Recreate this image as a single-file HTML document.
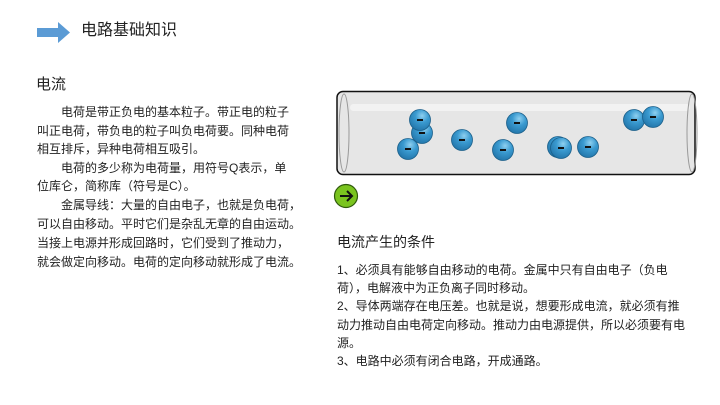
<!DOCTYPE html>
<html><head><meta charset="utf-8"><style>
body{margin:0;width:720px;height:405px;background:#fff;position:relative;overflow:hidden;font-family:"Liberation Sans","Noto Sans CJK SC",sans-serif;color:#222}
.t{position:absolute;white-space:nowrap;font-size:12px;line-height:14px}
</style></head><body>
<svg width="720" height="405" style="position:absolute;left:0;top:0">
<polygon points="37,28 58,28 58,22 70,32.5 58,43 58,37 37,37" fill="#5b9bd5"/>
<defs>
<radialGradient id="e" cx="0.6" cy="0.3" r="0.8"><stop offset="0" stop-color="#8fd0f0"/><stop offset="0.4" stop-color="#3a9ad0"/><stop offset="1" stop-color="#1e6fa3"/></radialGradient>
</defs>
<rect x="337" y="91.5" width="358" height="83" rx="6" fill="#e6e6e6" stroke="#111" stroke-width="1.5"/>
<rect x="350" y="104" width="340" height="7" rx="3.5" fill="#f2f2f2"/>
<ellipse cx="344" cy="133" rx="5" ry="39" fill="none" stroke="#999" stroke-width="1"/>
<ellipse cx="692" cy="133" rx="5" ry="39" fill="none" stroke="#999" stroke-width="1"/>
<g stroke="#1a5f8a" stroke-width="0.8" fill="url(#e)">
<circle cx="422" cy="133" r="10.5"/><circle cx="420" cy="120" r="10.5"/><circle cx="408" cy="149" r="10.5"/>
<circle cx="462" cy="140" r="10.5"/><circle cx="517" cy="123" r="10.5"/><circle cx="503" cy="150" r="10.5"/>
<circle cx="558" cy="147" r="10.5"/><circle cx="561" cy="148" r="10.5"/><circle cx="588" cy="147" r="10.5"/>
<circle cx="634" cy="120" r="10.5"/><circle cx="653" cy="117" r="10.5"/>
</g>
<g stroke="#111" stroke-width="2">
<line x1="417" y1="120" x2="423" y2="120"/><line x1="419" y1="133" x2="425" y2="133"/><line x1="405" y1="149" x2="411" y2="149"/>
<line x1="459" y1="140" x2="465" y2="140"/><line x1="514" y1="123" x2="520" y2="123"/><line x1="500" y1="150" x2="506" y2="150"/>
<line x1="558" y1="148" x2="564" y2="148"/><line x1="585" y1="147" x2="591" y2="147"/>
<line x1="631" y1="120" x2="637" y2="120"/><line x1="650" y1="117" x2="656" y2="117"/>
</g>
<circle cx="346" cy="196" r="11.5" fill="#7ac41f" stroke="#2f5a0c" stroke-width="1.2"/>
<g stroke="#111" stroke-width="2" fill="none"><line x1="340" y1="196" x2="352" y2="196"/><polyline points="347,191 352,196 347,201"/></g>
</svg>
<div class="t" style="left:81px;top:21px;font-size:16px;line-height:20px">电路基础知识</div>
<div class="t" style="left:36px;top:75px;font-size:15px;line-height:20px">电流</div>
<div class="t" style="left:37px;top:105px">　　电荷是带正负电的基本粒子。带正电的粒子</div>
<div class="t" style="left:37px;top:124px">叫正电荷，带负电的粒子叫负电荷要。同种电荷</div>
<div class="t" style="left:37px;top:142px">相互排斥，异种电荷相互吸引。</div>
<div class="t" style="left:37px;top:161px">　　电荷的多少称为电荷量，用符号Q表示，单</div>
<div class="t" style="left:37px;top:179px">位库仑，简称库（符号是C）。</div>
<div class="t" style="left:37px;top:198px">　　金属导线：大量的自由电子，也就是负电荷，</div>
<div class="t" style="left:37px;top:217px">可以自由移动。平时它们是杂乱无章的自由运动。</div>
<div class="t" style="left:37px;top:236px">当接上电源并形成回路时，它们受到了推动力，</div>
<div class="t" style="left:37px;top:255px">就会做定向移动。电荷的定向移动就形成了电流。</div>
<div class="t" style="left:337px;top:233px;font-size:14px;line-height:18px">电流产生的条件</div>
<div class="t" style="left:337px;top:263px">1、必须具有能够自由移动的电荷。金属中只有自由电子（负电</div>
<div class="t" style="left:337px;top:281px">荷），电解液中为正负离子同时移动。</div>
<div class="t" style="left:337px;top:299px">2、导体两端存在电压差。也就是说，想要形成电流，就必须有推</div>
<div class="t" style="left:337px;top:318px">动力推动自由电荷定向移动。推动力由电源提供，所以必须要有电</div>
<div class="t" style="left:337px;top:336px">源。</div>
<div class="t" style="left:337px;top:354px">3、电路中必须有闭合电路，开成通路。</div>
</body></html>
